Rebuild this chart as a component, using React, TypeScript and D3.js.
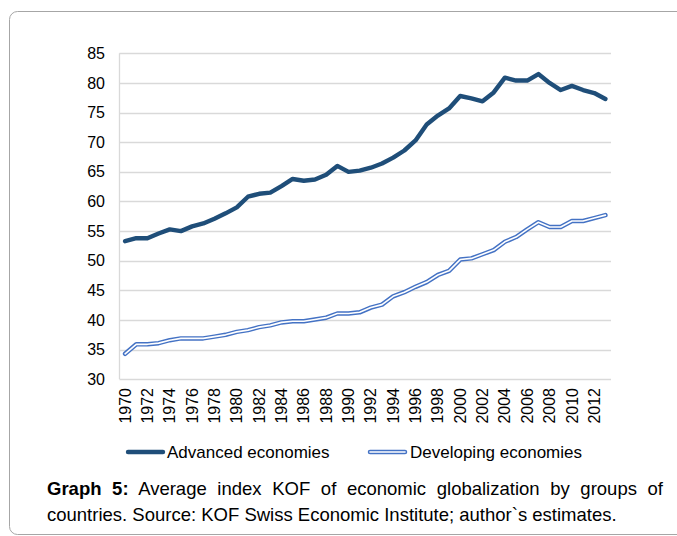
import { useEffect, useRef } from "react";
import * as d3 from "d3";

const years = d3.range(1970, 2014).map(String);
const advanced = [
  53.3, 53.8, 53.8, 54.6, 55.3, 55.0, 55.8, 56.3, 57.1, 58.0,
  59.0, 60.8, 61.3, 61.5, 62.6, 63.8, 63.5, 63.7, 64.5, 66.0,
  65.0, 65.2, 65.7, 66.4, 67.4, 68.6, 70.3, 73.0, 74.5, 75.7,
  77.8, 77.4, 76.9, 78.4, 80.9, 80.4, 80.4, 81.5, 80.0, 78.8,
  79.5, 78.8, 78.3, 77.3,
];
const developing = [
  34.3, 35.9, 35.9, 36.1, 36.6, 36.9, 36.9, 36.9, 37.2, 37.5,
  38.0, 38.3, 38.8, 39.1, 39.6, 39.8, 39.8, 40.1, 40.4, 41.1,
  41.1, 41.3, 42.1, 42.6, 44.0, 44.7, 45.6, 46.4, 47.6, 48.3,
  50.2, 50.4, 51.1, 51.8, 53.2, 54.0, 55.3, 56.5, 55.7, 55.7,
  56.7, 56.7, 57.2, 57.7,
];
const yTicks = [30, 35, 40, 45, 50, 55, 60, 65, 70, 75, 80, 85];
const seriesNames = ["Advanced economies", "Developing economies"];

const W = 677;
const H = 536;
const font = "'Liberation Sans', Arial, sans-serif";

export default function App() {
  const ref = useRef<SVGSVGElement | null>(null);

  useEffect(() => {
    if (!ref.current) return;
    const svg = d3.select(ref.current);
    svg.selectAll("*").remove();

    // outer frame
    svg.append("rect")
      .attr("x", 9.5).attr("y", 11.5)
      .attr("width", 720).attr("height", 523)
      .attr("rx", 8)
      .attr("fill", "white")
      .attr("stroke", "#a6a6a6");

    const x = d3.scaleBand().domain(years).range([119.5, 611]);
    const y = d3.scaleLinear().domain([30, 85]).range([379.3, 53.3]);
    const cx = (d: string) => (x(d) || 0) + x.bandwidth() / 2;

    // gridlines
    svg.append("g")
      .selectAll("line")
      .data(yTicks.slice(1))
      .enter()
      .append("line")
      .attr("x1", 119.5).attr("x2", 611)
      .attr("y1", (d) => Math.round(y(d)) + 0.5)
      .attr("y2", (d) => Math.round(y(d)) + 0.5)
      .attr("stroke", "#d9d9d9")
      .attr("stroke-width", 1.3);

    // axis lines
    svg.append("line")
      .attr("x1", 119.5).attr("x2", 119.5)
      .attr("y1", y(85)).attr("y2", y(30))
      .attr("stroke", "#d9d9d9").attr("stroke-width", 1.3);
    svg.append("line")
      .attr("x1", 119.5).attr("x2", 611)
      .attr("y1", Math.round(y(30)) + 0.5).attr("y2", Math.round(y(30)) + 0.5)
      .attr("stroke", "#d9d9d9").attr("stroke-width", 1.3);

    // y labels
    svg.append("g")
      .selectAll("text")
      .data(yTicks)
      .enter()
      .append("text")
      .attr("x", 105)
      .attr("y", (d) => y(d))
      .attr("dy", "0.35em")
      .attr("text-anchor", "end")
      .attr("font-family", font)
      .attr("font-size", 16)
      .attr("fill", "#000")
      .text((d) => d);

    // x labels, every second year
    svg.append("g")
      .selectAll("text")
      .data(years.filter((_, i) => i % 2 === 0))
      .enter()
      .append("text")
      .attr("transform", (d) => `translate(${cx(d)}, 388) rotate(-90)`)
      .attr("dy", "0.35em")
      .attr("text-anchor", "end")
      .attr("font-family", font)
      .attr("font-size", 16)
      .attr("fill", "#000")
      .text((d) => d);

    const line = d3.line<number>()
      .x((_, i) => cx(years[i]))
      .y((d) => y(d));

    svg.append("path")
      .datum(advanced)
      .attr("d", line)
      .attr("fill", "none")
      .attr("stroke", "#1f4e79")
      .attr("stroke-width", 4.4)
      .attr("stroke-linejoin", "round")
      .attr("stroke-linecap", "round");

    svg.append("path")
      .datum(developing)
      .attr("d", line)
      .attr("fill", "none")
      .attr("stroke", "#4472c4")
      .attr("stroke-width", 4.5)
      .attr("stroke-linejoin", "round")
      .attr("stroke-linecap", "round");
    svg.append("path")
      .datum(developing)
      .attr("d", line)
      .attr("fill", "none")
      .attr("stroke", "white")
      .attr("stroke-width", 1.6)
      .attr("stroke-linejoin", "round")
      .attr("stroke-linecap", "round");

    // legend
    const ly = 452;
    const lg = svg.append("g");
    lg.append("line")
      .attr("x1", 128).attr("x2", 163).attr("y1", ly).attr("y2", ly)
      .attr("stroke", "#1f4e79").attr("stroke-width", 4.4).attr("stroke-linecap", "round");
    lg.append("text")
      .attr("x", 167).attr("y", ly).attr("dy", "0.35em")
      .attr("font-family", font).attr("font-size", 17).attr("fill", "#000")
      .text(seriesNames[0]);
    lg.append("line")
      .attr("x1", 370).attr("x2", 405).attr("y1", ly).attr("y2", ly)
      .attr("stroke", "#4472c4").attr("stroke-width", 4.5).attr("stroke-linecap", "round");
    lg.append("line")
      .attr("x1", 370).attr("x2", 405).attr("y1", ly).attr("y2", ly)
      .attr("stroke", "white").attr("stroke-width", 1.6).attr("stroke-linecap", "round");
    lg.append("text")
      .attr("x", 410).attr("y", ly).attr("dy", "0.35em")
      .attr("font-family", font).attr("font-size", 17).attr("fill", "#000")
      .text(seriesNames[1]);
  }, []);

  const captionStyle: React.CSSProperties = {
    position: "absolute",
    left: 47,
    width: 616,
    fontFamily: font,
    fontSize: 18.5,
    lineHeight: "25px",
    color: "#000",
    whiteSpace: "nowrap",
  };

  return (
    <div style={{ position: "fixed", left: 0, top: 0, width: W, height: H, background: "white" }}>
      <svg ref={ref} width={W} height={H} style={{ display: "block" }} />
      <div style={{ ...captionStyle, top: 476, textAlign: "justify", textAlignLast: "justify", whiteSpace: "normal" }}>
        <b>Graph 5:</b> Average index KOF of economic globalization by groups of
      </div>
      <div style={{ ...captionStyle, top: 502 }}>
        countries. Source: KOF Swiss Economic Institute; author`s estimates.
      </div>
    </div>
  );
}
